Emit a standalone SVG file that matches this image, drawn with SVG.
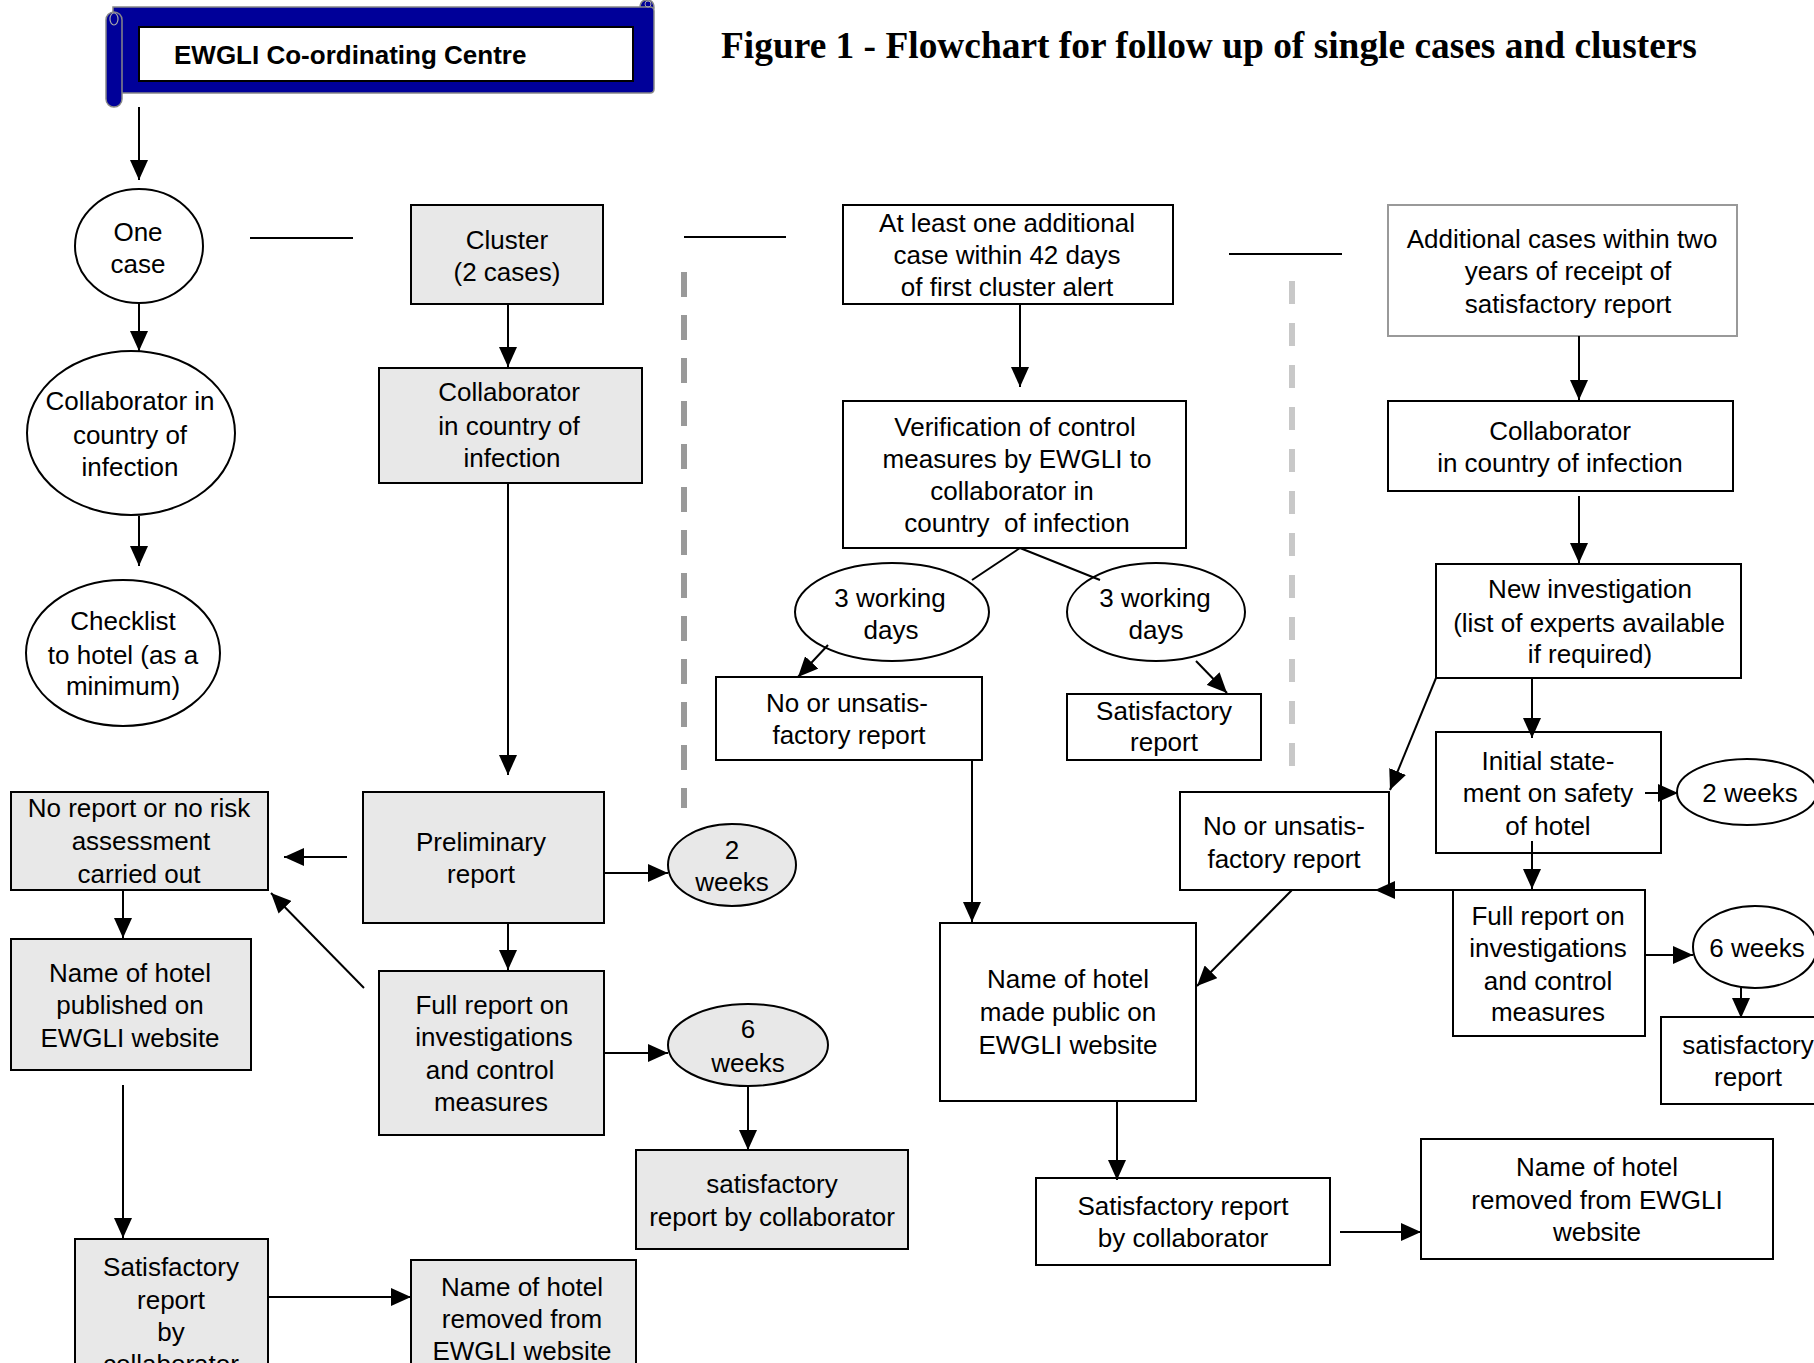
<svg xmlns="http://www.w3.org/2000/svg" width="1814" height="1363" viewBox="0 0 1814 1363">
<defs>
<style>
text{font-family:"Liberation Sans",Arial,sans-serif;font-size:26px;fill:#000;text-anchor:middle}
.title{font-family:"Liberation Serif","Times New Roman",serif;font-weight:bold;font-size:37.4px;text-anchor:start}
.bt{font-weight:bold;font-size:26px;text-anchor:start}
.w{fill:#fff;stroke:#000;stroke-width:2}
.g{fill:#e8e8e8;stroke:#000;stroke-width:2}
.gs{fill:#fff;stroke:#999;stroke-width:2}
.c line{stroke:#000;stroke-width:2;fill:none}
.arr{marker-end:url(#ah)}
.d line.dash1{stroke:#999;stroke-width:6;stroke-dasharray:25 18;fill:none}
.d line.dash2{stroke:#c8c8c8;stroke-width:6;stroke-dasharray:23 19;fill:none}
</style>
<marker id="ah" markerWidth="20" markerHeight="18" refX="20" refY="9" orient="auto" markerUnits="userSpaceOnUse">
<path d="M0,0 L20,9 L0,18 Z" fill="#000"/>
</marker>
</defs>
<rect width="1814" height="1363" fill="#fff"/>

<text class="title" x="721" y="58">Figure 1 - Flowchart for follow up of single cases and clusters</text>

<g id="banner">
<path d="M640,8 Q640,0 647,0 Q654,0 654,8 Z" fill="#000099" stroke="#888" stroke-width="1.5"/>
<path d="M113,7 H650 Q654,7 654,11 V89 Q654,93 650,93 H113 Z" fill="#000099" stroke="#888" stroke-width="1.5"/>
<rect x="106" y="12" width="16" height="95" rx="8" fill="#000099" stroke="#888" stroke-width="1.5"/>
<ellipse cx="114" cy="19" rx="4" ry="6" fill="none" stroke="#aaa" stroke-width="1.2"/>
<ellipse cx="648" cy="4" rx="3" ry="3" fill="none" stroke="#aaa" stroke-width="1"/>
<rect x="139" y="27" width="494" height="54" fill="#fff" stroke="#000" stroke-width="2"/>
<text class="bt" x="174" y="64">EWGLI Co-ordinating Centre</text>
</g>

<g id="one-case"><ellipse class="w" cx="139" cy="246" rx="64" ry="57"/><text x="138" y="241">One</text><text x="138" y="273">case</text></g>
<g id="collab-circle"><ellipse class="w" cx="131" cy="433" rx="104" ry="82"/><text x="130" y="410">Collaborator in</text><text x="130" y="444">country of</text><text x="130" y="476">infection</text></g>
<g id="checklist"><ellipse class="w" cx="123" cy="653" rx="97" ry="73"/><text x="123" y="630">Checklist</text><text x="123" y="664">to hotel (as a</text><text x="123" y="695">minimum)</text></g>

<g id="cluster"><rect class="g" x="411" y="205" width="192" height="99"/><text x="507" y="249">Cluster</text><text x="507" y="281">(2 cases)</text></g>
<g id="collab-box"><rect class="g" x="379" y="368" width="263" height="115"/><text x="509" y="401">Collaborator</text><text x="509" y="435">in country of</text><text x="512" y="467">infection</text></g>
<g id="prelim"><rect class="g" x="363" y="792" width="241" height="131"/><text x="481" y="851">Preliminary</text><text x="481" y="883">report</text></g>
<g id="noreport"><rect class="g" x="11" y="792" width="257" height="98"/><text x="139" y="817">No report or no risk</text><text x="141" y="850">assessment</text><text x="139" y="883">carried out</text></g>
<g id="two-weeks-1"><ellipse class="g" cx="732" cy="865" rx="64" ry="41"/><text x="732" y="859">2</text><text x="732" y="891">weeks</text></g>
<g id="fullreport-1"><rect class="g" x="379" y="971" width="225" height="164"/><text x="492" y="1014">Full report on</text><text x="494" y="1046">investigations</text><text x="490" y="1079">and control</text><text x="491" y="1111">measures</text></g>
<g id="six-weeks-1"><ellipse class="g" cx="748" cy="1045" rx="80" ry="41"/><text x="748" y="1038">6</text><text x="748" y="1072">weeks</text></g>
<g id="satrep-1"><rect class="g" x="636" y="1150" width="272" height="99"/><text x="772" y="1193">satisfactory</text><text x="772" y="1226">report by collaborator</text></g>
<g id="published"><rect class="g" x="11" y="939" width="240" height="131"/><text x="130" y="982">Name of hotel</text><text x="130" y="1014">published on</text><text x="130" y="1047">EWGLI website</text></g>
<g id="satrep-left"><rect class="g" x="75" y="1239" width="193" height="150"/><text x="171" y="1276">Satisfactory</text><text x="171" y="1309">report</text><text x="171" y="1341">by</text><text x="171" y="1373">collaborator</text></g>
<g id="removed-left"><rect class="g" x="411" y="1260" width="225" height="130"/><text x="522" y="1296">Name of hotel</text><text x="522" y="1328">removed from</text><text x="522" y="1360">EWGLI website</text></g>

<g id="atleast"><rect class="w" x="843" y="205" width="330" height="99"/><text x="1007" y="232">At least one additional</text><text x="1007" y="264">case within 42 days</text><text x="1007" y="296">of first cluster alert</text></g>
<g id="verif"><rect class="w" x="843" y="401" width="343" height="147"/><text x="1015" y="436">Verification of control</text><text x="1017" y="468">measures by EWGLI to</text><text x="1012" y="500">collaborator in</text><text x="1017" y="532" xml:space="preserve">country  of infection</text></g>
<g id="wd-left"><ellipse class="w" cx="892" cy="612" rx="97" ry="49"/><text x="890" y="607">3 working</text><text x="891" y="639">days</text></g>
<g id="wd-right"><ellipse class="w" cx="1156" cy="612" rx="89" ry="49"/><text x="1155" y="607">3 working</text><text x="1156" y="639">days</text></g>
<g id="unsat-mid"><rect class="w" x="716" y="677" width="266" height="83"/><text x="847" y="712">No or unsatis-</text><text x="849" y="744">factory report</text></g>
<g id="satrep-mid"><rect class="w" x="1067" y="694" width="194" height="66"/><text x="1164" y="720">Satisfactory</text><text x="1164" y="751">report</text></g>
<g id="madepublic"><rect class="w" x="940" y="923" width="256" height="178"/><text x="1068" y="988">Name of hotel</text><text x="1068" y="1021">made public on</text><text x="1068" y="1054">EWGLI website</text></g>
<g id="satcollab-mid"><rect class="w" x="1036" y="1178" width="294" height="87"/><text x="1183" y="1215">Satisfactory report</text><text x="1183" y="1247">by collaborator</text></g>
<g id="removed-right"><rect class="w" x="1421" y="1139" width="352" height="120"/><text x="1597" y="1176">Name of hotel</text><text x="1597" y="1209">removed from EWGLI</text><text x="1597" y="1241">website</text></g>

<g id="additional"><rect class="gs" x="1388" y="205" width="349" height="131"/><text x="1562" y="248">Additional cases within two</text><text x="1568" y="280">years of receipt of</text><text x="1568" y="313">satisfactory report</text></g>
<g id="collab-right"><rect class="w" x="1388" y="401" width="345" height="90"/><text x="1560" y="440">Collaborator</text><text x="1560" y="472">in country of infection</text></g>
<g id="newinv"><rect class="w" x="1436" y="564" width="305" height="114"/><text x="1590" y="598">New investigation</text><text x="1589" y="632">(list of experts available</text><text x="1590" y="663">if required)</text></g>
<g id="initial"><rect class="w" x="1436" y="732" width="225" height="121"/><text x="1548" y="770">Initial state-</text><text x="1548" y="802">ment on safety</text><text x="1548" y="835">of hotel</text></g>
<g id="unsat-right"><rect class="w" x="1180" y="792" width="209" height="98"/><text x="1284" y="835">No or unsatis-</text><text x="1284" y="868">factory report</text></g>
<g id="two-weeks-2"><ellipse class="w" cx="1747" cy="792" rx="70" ry="33"/><text x="1750" y="802">2 weeks</text></g>
<g id="fullreport-2"><rect class="w" x="1453" y="890" width="192" height="146"/><text x="1548" y="925">Full report on</text><text x="1548" y="957">investigations</text><text x="1548" y="990">and control</text><text x="1548" y="1021">measures</text></g>
<g id="six-weeks-2"><ellipse class="w" cx="1755" cy="947" rx="62" ry="41"/><text x="1757" y="957">6 weeks</text></g>
<g id="satrep-right"><rect class="w" x="1661" y="1017" width="170" height="87"/><text x="1748" y="1054">satisfactory</text><text x="1748" y="1086">report</text></g>

<g id="dividers" class="d">
<line class="dash1" x1="684" y1="272" x2="684" y2="808"/>
<line class="dash2" x1="1292" y1="281" x2="1292" y2="773"/>
</g>

<g id="connectors" class="c">
<line class="arr" x1="139" y1="107" x2="139" y2="180"/>
<line x1="250" y1="238" x2="353" y2="238"/>
<line x1="684" y1="237" x2="786" y2="237"/>
<line x1="1229" y1="254" x2="1342" y2="254"/>
<line class="arr" x1="139" y1="303" x2="139" y2="351"/>
<line class="arr" x1="139" y1="516" x2="139" y2="566"/>
<line class="arr" x1="508" y1="304" x2="508" y2="367"/>
<line class="arr" x1="508" y1="483" x2="508" y2="775"/>
<line class="arr" x1="347" y1="857" x2="284" y2="857"/>
<line class="arr" x1="604" y1="873" x2="668" y2="873"/>
<line class="arr" x1="508" y1="923" x2="508" y2="970"/>
<line class="arr" x1="364" y1="988" x2="271" y2="893"/>
<line class="arr" x1="604" y1="1053" x2="668" y2="1053"/>
<line class="arr" x1="748" y1="1086" x2="748" y2="1150"/>
<line class="arr" x1="123" y1="890" x2="123" y2="938"/>
<line class="arr" x1="123" y1="1085" x2="123" y2="1238"/>
<line class="arr" x1="268" y1="1297" x2="411" y2="1297"/>
<line class="arr" x1="1020" y1="304" x2="1020" y2="387"/>
<line x1="1020" y1="548" x2="972" y2="580"/>
<line x1="1020" y1="548" x2="1100" y2="580"/>
<line class="arr" x1="828" y1="645" x2="798" y2="677"/>
<line class="arr" x1="1196" y1="661" x2="1227" y2="693"/>
<line class="arr" x1="972" y1="760" x2="972" y2="922"/>
<line class="arr" x1="1117" y1="1101" x2="1117" y2="1180"/>
<line class="arr" x1="1340" y1="1232" x2="1421" y2="1232"/>
<line class="arr" x1="1579" y1="336" x2="1579" y2="400"/>
<line class="arr" x1="1579" y1="496" x2="1579" y2="563"/>
<line class="arr" x1="1532" y1="678" x2="1532" y2="738"/>
<line class="arr" x1="1436" y1="678" x2="1390" y2="790"/>
<line class="arr" x1="1645" y1="793" x2="1678" y2="793"/>
<line class="arr" x1="1532" y1="841" x2="1532" y2="889"/>
<line class="arr" x1="1453" y1="890" x2="1375" y2="890"/>
<line class="arr" x1="1292" y1="890" x2="1197" y2="986"/>
<line class="arr" x1="1645" y1="955" x2="1693" y2="955"/>
<line class="arr" x1="1741" y1="987" x2="1741" y2="1018"/>
</g>
</svg>
